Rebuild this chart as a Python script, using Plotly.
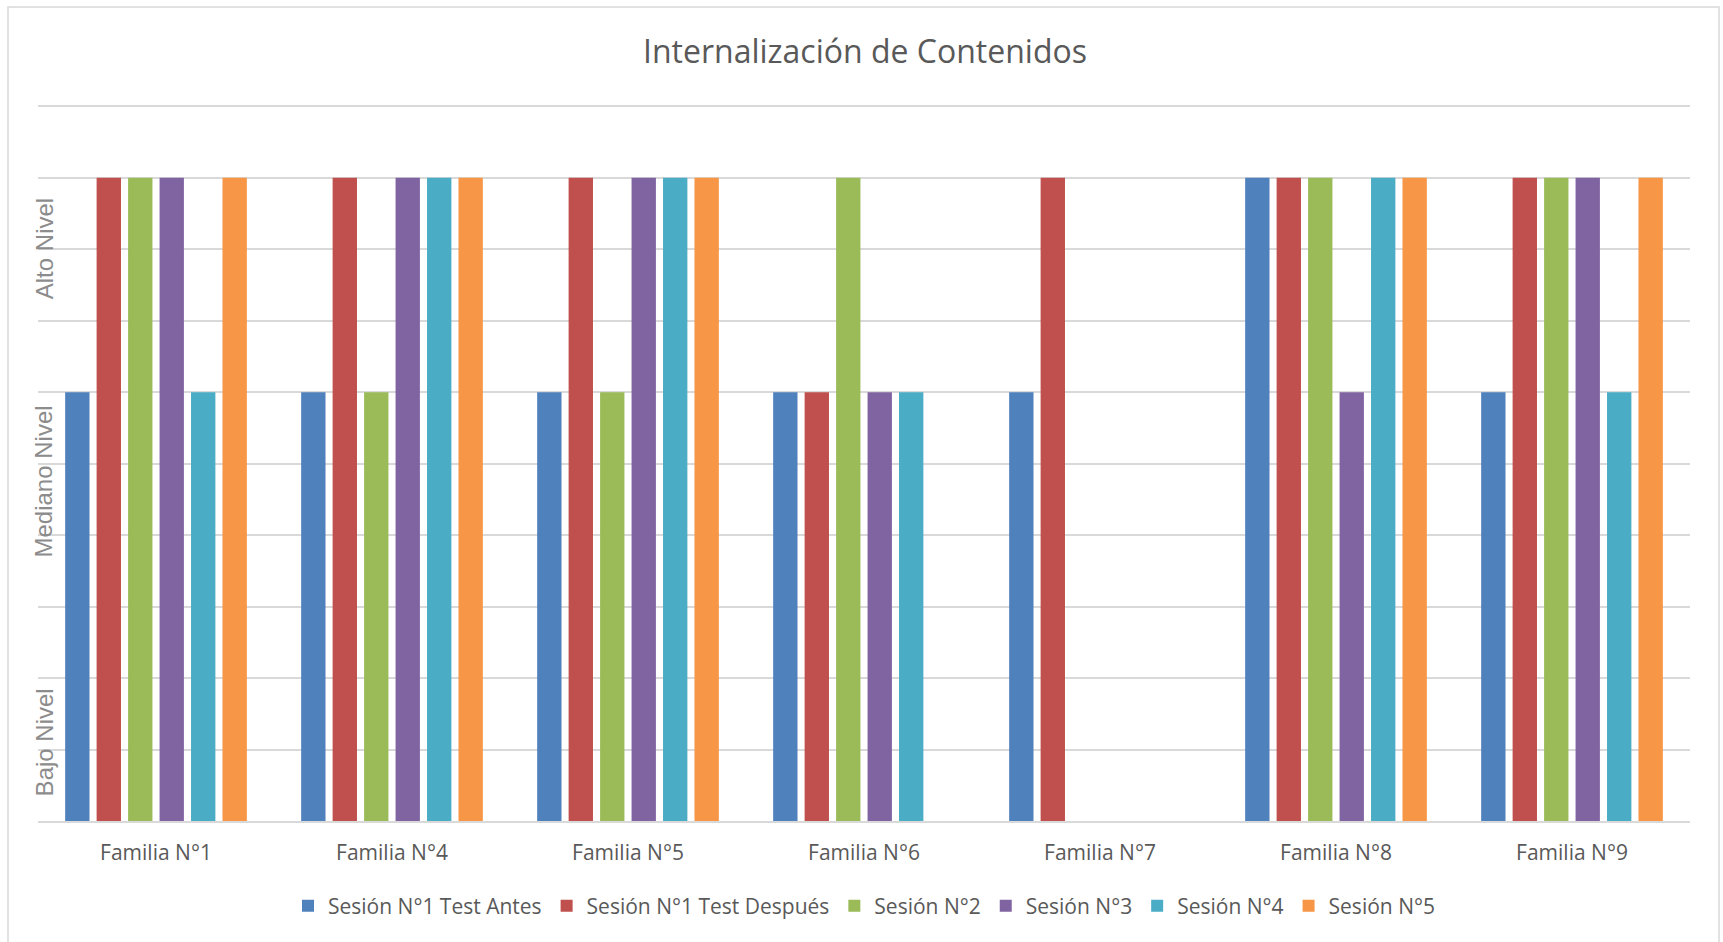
import plotly.graph_objects as go

# Categories and series values (levels: 6 = Mediano Nivel, 9 = Alto Nivel)
familias = ["Familia N°1", "Familia N°4", "Familia N°5", "Familia N°6",
            "Familia N°7", "Familia N°8", "Familia N°9"]

sesion1_antes = [6, 6, 6, 6, 6, 9, 6]
sesion1_despues = [9, 9, 9, 6, 9, 9, 9]
sesion2 = [9, 6, 6, 9, None, 9, 9]
sesion3 = [9, 9, 9, 6, None, 6, 9]
sesion4 = [6, 9, 9, 6, None, 9, 6]
sesion5 = [9, 9, 9, None, None, 9, 9]

series_names = ["Sesión N°1 Test Antes", "Sesión N°1 Test Después", "Sesión N°2",
                "Sesión N°3", "Sesión N°4", "Sesión N°5"]
series_values = [sesion1_antes, sesion1_despues, sesion2, sesion3, sesion4, sesion5]
series_colors = ["#4F81BD", "#C0504D", "#9BBB59", "#8064A2", "#4BACC6", "#F79646"]

# Level labels along the value axis
level_labels = ["Bajo Nivel", "Mediano Nivel", "Alto Nivel"]
level_label_y = [1.1, 4.75, 8.0]

W, H = 1723, 942
M_L, M_R, M_T, M_B = 38, 33, 102, 121
plot_w = W - M_L - M_R
plot_h = H - M_T - M_B
Y_MAX = 10.06  # a little headroom so the top gridline at 10 is drawn

fig = go.Figure()
for name, vals, col in zip(series_names, series_values, series_colors):
    fig.add_trace(go.Bar(x=familias, y=vals, name=name,
                         marker=dict(color=col, line=dict(width=0))))

for lab, yv in zip(level_labels, level_label_y):
    fig.add_annotation(text=lab, xref="paper", yref="y", x=(44 - M_L) / plot_w, y=yv,
                       textangle=-90, showarrow=False, xanchor="center", yanchor="middle",
                       font=dict(family="Liberation Sans, Arial, sans-serif", size=24,
                                 color="#8C8C8C"))

# Outer chart frame
fig.add_shape(type="rect", xref="paper", yref="paper",
              x0=(8 - M_L) / plot_w, x1=(1719 - M_L) / plot_w,
              y0=-(H + 20 - M_T - plot_h) / plot_h, y1=(M_T + plot_h - 7) / plot_h,
              line=dict(color="#D9D9D9", width=1.5), fillcolor="rgba(0,0,0,0)", layer="below")

fig.update_layout(
    width=W, height=H,
    margin=dict(l=M_L, r=M_R, t=M_T, b=M_B, pad=0),
    paper_bgcolor="white", plot_bgcolor="white",
    barmode="group", bargap=0.2, bargroupgap=0.226,
    title=dict(text="Internalización de Contenidos", x=865 / W, xanchor="center",
               y=1 - 52 / H, yanchor="middle", yref="container",
               font=dict(family="Open Sans, sans-serif", size=32, color="#595959")),
    font=dict(family="Open Sans, sans-serif", color="#595959"),
    showlegend=True,
    legend=dict(orientation="h", x=0.5, xanchor="center", y=(M_T + plot_h - 906) / plot_h,
                yanchor="middle", font=dict(family="Open Sans, sans-serif", size=21,
                                            color="#595959"),
                itemwidth=30, traceorder="normal"),
    xaxis=dict(showgrid=False, showline=True, linecolor="#D9D9D9", linewidth=2,
               ticks="", ticklabelstandoff=12,
               tickfont=dict(family="Open Sans, sans-serif", size=21, color="#595959")),
    yaxis=dict(range=[0, Y_MAX], tickmode="linear", tick0=0, dtick=1,
               showticklabels=False, showgrid=True,
               gridcolor="#D9D9D9", gridwidth=1.5, zeroline=False, showline=False,
               ticks=""),
)

fig.write_html("out.html")
